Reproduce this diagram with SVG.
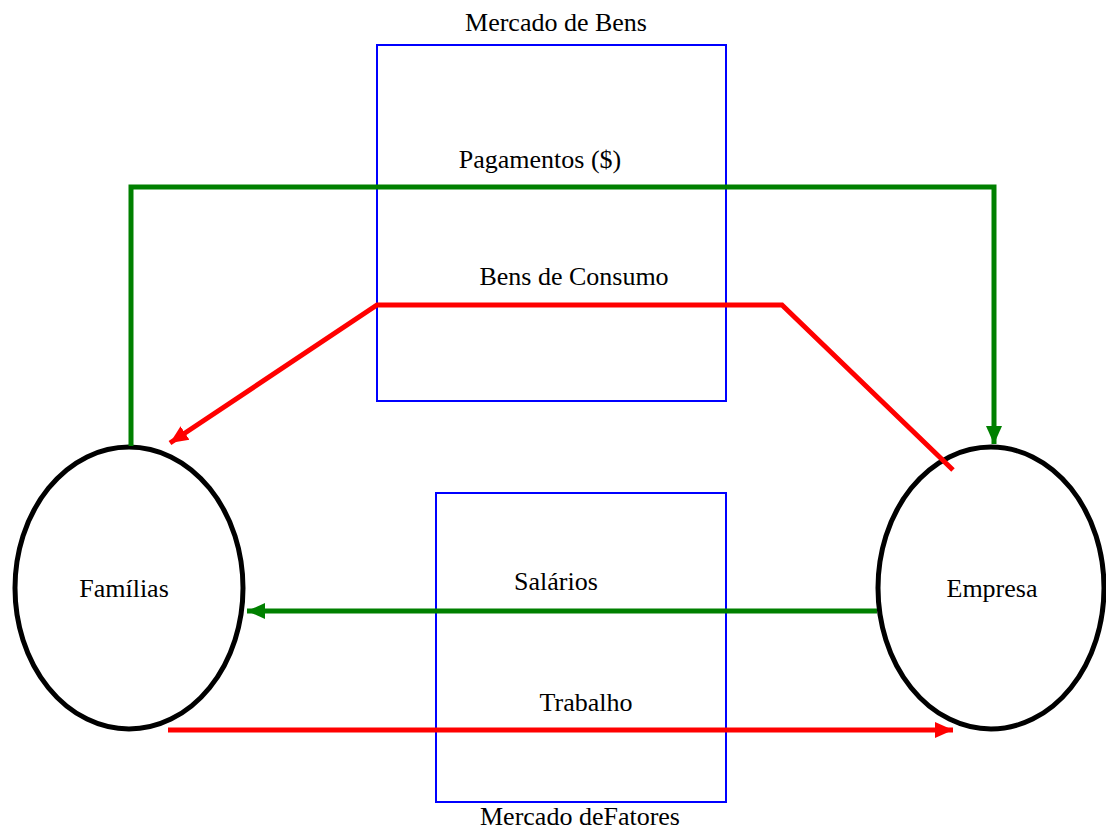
<svg xmlns="http://www.w3.org/2000/svg" width="1106" height="830" viewBox="0 0 1106 830">
  <style>
    .lbl { font-size: 26px; fill: #000; text-anchor: middle; }
    .market { fill: none; stroke: #0000ff; stroke-width: 2; }
    .agent { fill: #fff; stroke: #000; stroke-width: 5; }
    .green { fill: none; stroke: #008000; stroke-width: 5; }
    .red { fill: none; stroke: #ff0000; stroke-width: 5; }
  </style>
  <defs>
    <marker id="arrowGreen" markerUnits="userSpaceOnUse" markerWidth="20" markerHeight="20" viewBox="0 0 20 20" refX="18" refY="10" orient="auto">
      <path d="M0,2 L18,10 L0,18 Z" fill="#008000"/>
    </marker>
    <marker id="arrowRed" markerUnits="userSpaceOnUse" markerWidth="20" markerHeight="20" viewBox="0 0 20 20" refX="18" refY="10" orient="auto">
      <path d="M0,2 L18,10 L0,18 Z" fill="#ff0000"/>
    </marker>
  </defs>

  <rect width="1106" height="830" fill="#fff"/>

  <g font-family="'Liberation Serif', 'Times New Roman', 'DejaVu Serif', serif">
    <!-- markets -->
    <g id="mercado-bens">
      <rect class="market" x="377" y="45" width="349" height="356"/>
      <text class="lbl" x="556" y="31">Mercado de Bens</text>
    </g>
    <g id="mercado-fatores">
      <rect class="market" x="436" y="493" width="290" height="309"/>
      <text class="lbl" x="580" y="825">Mercado deFatores</text>
    </g>

    <!-- agents -->
    <g id="familias">
      <ellipse class="agent" cx="129" cy="588" rx="114" ry="141"/>
      <text class="lbl" x="124" y="597">Famílias</text>
    </g>
    <g id="empresa">
      <ellipse class="agent" cx="991" cy="588" rx="113" ry="141"/>
      <text class="lbl" x="992" y="597">Empresa</text>
    </g>

    <!-- flows -->
    <g id="connectors">
      <path class="green" d="M131,446 L131,187 L994,187 L994,444" marker-end="url(#arrowGreen)"/>
      <path class="red" d="M953,470 L782,305 L377,305 L170,443" marker-end="url(#arrowRed)"/>
      <path class="green" d="M877,611 L247,611" marker-end="url(#arrowGreen)"/>
      <path class="red" d="M168,730 L953,730" marker-end="url(#arrowRed)"/>
    </g>

    <!-- flow labels -->
    <g id="labels">
      <text class="lbl" x="540" y="168">Pagamentos ($)</text>
      <text class="lbl" x="574" y="285">Bens de Consumo</text>
      <text class="lbl" x="556" y="590">Salários</text>
      <text class="lbl" x="586" y="711">Trabalho</text>
    </g>
  </g>
</svg>
